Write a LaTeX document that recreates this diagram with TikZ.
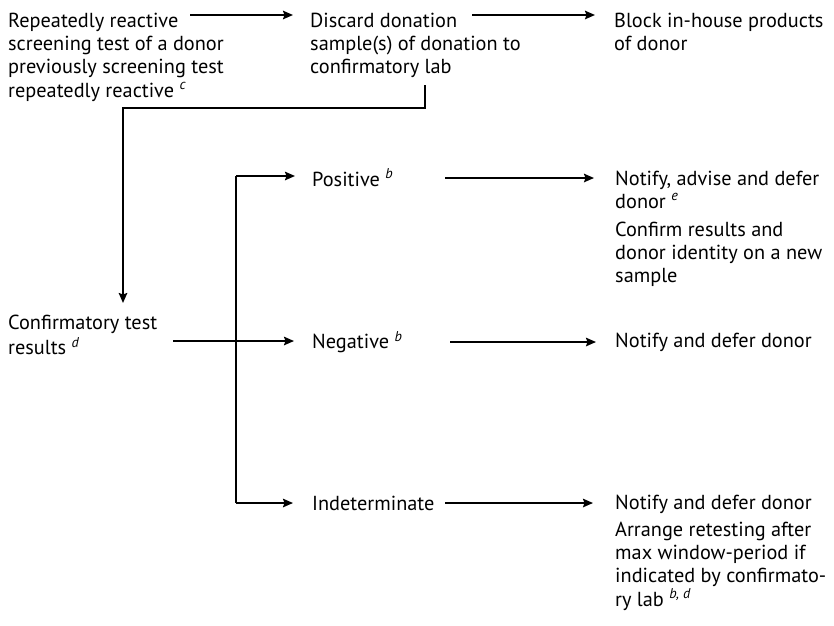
\documentclass[tikz,border=0pt]{standalone}
\usepackage{fontspec}
\setmainfont{PT Sans}
\usetikzlibrary{arrows.meta}
\newcommand{\sps}[1]{\textsuperscript{\itshape #1}}
\tikzset{
  txt/.style={anchor=north west, inner sep=0pt, align=left,
    font=\fontsize{20.3}{23.3}\selectfont},
  arr/.style={line width=1.9pt, -{Stealth[length=10pt,width=8.5pt,inset=1.5pt]}},
  ln/.style={line width=1.9pt}
}
\begin{document}
\begin{tikzpicture}[x=1pt,y=-1pt]
\useasboundingbox (0,0) rectangle (834,625);
% text nodes
\node[txt] (rr) at (8,10.7) {\strut Repeatedly reactive\\screening test of a donor\\previously screening test\\repeatedly reactive \sps{c}};
\node[txt] (disc) at (310,10.7) {\strut Discard donation\\sample(s) of donation to\\confirmatory lab};
\node[txt] (block) at (614,10.7) {\strut Block in-house products\\of donor};
\node[txt] (conf) at (8,312.7) {\strut Confirmatory test\\results \sps{d}};
\node[txt] (pos) at (312,168.7) {\strut Positive \sps{b}};
\node[txt] (neg) at (312,331) {\strut Negative \sps{b}};
\node[txt] (ind) at (312,493.7) {\strut Indeterminate};
\node[txt] (nad) at (615,168.7) {\strut Notify, advise and defer\\donor \sps{e}};
\node[txt] (cri) at (615,219.7) {\strut Confirm results and\\donor identity on a new\\sample};
\node[txt] (nd1) at (615,331) {\strut Notify and defer donor};
\node[txt] (nd2) at (615,492.7) {\strut Notify and defer donor};
\node[txt] (art) at (615,519.7) {\strut Arrange retesting after\\max window-period if\\indicated by confirmato-\\ry lab \sps{b, d}};
% connector end points
\coordinate (a1s) at (190,15);  \coordinate (a1e) at (293,15);
\coordinate (a2s) at (472,15);  \coordinate (a2e) at (595,15);
\coordinate (e0) at (425,85);   \coordinate (e1) at (425,108);
\coordinate (e2) at (123,108);  \coordinate (e3) at (123,303);
\coordinate (cs) at (173,341);  \coordinate (ce) at (294,341);
\coordinate (vt) at (236,176);  \coordinate (vb) at (236,503);
\coordinate (pe) at (295,176);  \coordinate (ie) at (293,503);
\coordinate (p2s) at (445,178); \coordinate (p2e) at (594,178);
\coordinate (n2s) at (450,342); \coordinate (n2e) at (596,342);
\coordinate (i2s) at (445,503); \coordinate (i2e) at (593,503);
% connectors
\draw[arr] (a1s) -- (a1e);
\draw[arr] (a2s) -- (a2e);
\draw[arr] (e0) -- (e1) -- (e2) -- (e3);
\draw[arr] (cs) -- (ce);
\draw[ln] (vb) -- (vt);
\draw[arr] (vt) -- (pe);
\draw[arr] (vb) -- (ie);
\draw[arr] (p2s) -- (p2e);
\draw[arr] (n2s) -- (n2e);
\draw[arr] (i2s) -- (i2e);
\end{tikzpicture}
\end{document}
